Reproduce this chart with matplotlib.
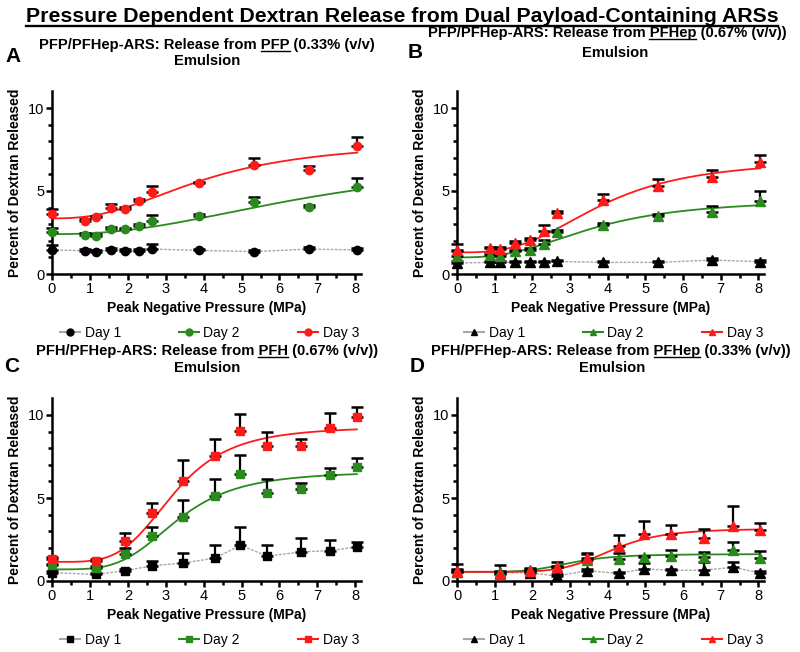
import numpy as np
import matplotlib
matplotlib.use('Agg')
import matplotlib.pyplot as plt
from matplotlib.lines import Line2D

plt.rcParams['font.family'] = ['Liberation Sans', 'DejaVu Sans']

# ---- data (percent of dextran released) ----
x_top = [0, 0.88, 1.15, 1.55, 1.93, 2.3, 2.65, 3.88, 5.33, 6.77, 8.05]
x_bot = [0, 1.15, 1.93, 2.65, 3.45, 4.3, 4.97, 5.68, 6.57, 7.32, 8.04]

# A: PFP/PFHep-ARS, release from PFP
a_day1 = [1.45, 1.4, 1.35, 1.45, 1.4, 1.38, 1.5, 1.42, 1.35, 1.5, 1.45]
a_err1 = [0.27, 0.1, 0.1, 0.1, 0.1, 0.1, 0.3, 0.1, 0.1, 0.1, 0.1]
a_day2 = [2.54, 2.34, 2.3, 2.72, 2.7, 2.9, 3.18, 3.5, 4.32, 4.04, 5.22]
a_err2 = [0.26, 0.1, 0.1, 0.1, 0.1, 0.1, 0.38, 0.1, 0.3, 0.1, 0.58]
a_day3 = [3.62, 3.22, 3.42, 3.98, 3.92, 4.42, 4.94, 5.46, 6.54, 6.24, 7.74]
a_err3 = [0.28, 0.1, 0.1, 0.24, 0.1, 0.1, 0.38, 0.1, 0.42, 0.28, 0.52]

# B: PFP/PFHep-ARS, release from PFHep
b_day1 = [0.66, 0.7, 0.7, 0.7, 0.7, 0.7, 0.76, 0.7, 0.7, 0.84, 0.74]
b_err1 = [0.1] * 11
b_day2 = [1.08, 1.14, 1.08, 1.36, 1.46, 1.78, 2.54, 2.96, 3.52, 3.74, 4.42]
b_err2 = [0.32, 0.1, 0.1, 0.1, 0.1, 0.24, 0.1, 0.1, 0.1, 0.36, 0.58]
b_day3 = [1.42, 1.54, 1.5, 1.86, 2.04, 2.62, 3.7, 4.46, 5.3, 5.82, 6.72]
b_err3 = [0.38, 0.1, 0.1, 0.1, 0.1, 0.34, 0.1, 0.34, 0.4, 0.42, 0.46]

# C: PFH/PFHep-ARS, release from PFH
c_day1 = [0.5, 0.4, 0.62, 0.92, 1.08, 1.38, 2.15, 1.5, 1.75, 1.83, 2.05]
c_err1 = [0.1, 0.1, 0.1, 0.28, 0.59, 0.81, 1.12, 0.69, 0.85, 0.62, 0.3]
c_day2 = [0.95, 0.8, 1.65, 2.73, 3.83, 5.14, 6.45, 5.3, 5.56, 6.37, 6.89]
c_err2 = [0.1, 0.1, 0.34, 0.54, 1.05, 1.02, 1.14, 0.86, 0.32, 0.46, 0.54]
c_day3 = [1.32, 1.2, 2.43, 4.08, 6.0, 7.53, 9.06, 8.13, 8.13, 9.22, 9.88]
c_err3 = [0.1, 0.1, 0.44, 0.6, 1.29, 1.02, 0.98, 0.83, 0.4, 0.88, 0.62]

# D: PFH/PFHep-ARS, release from PFHep
d_day1 = [0.56, 0.5, 0.5, 0.3, 0.62, 0.46, 0.74, 0.64, 0.66, 0.82, 0.5]
d_err1 = [0.48, 0.1, 0.1, 0.1, 0.1, 0.1, 0.32, 0.1, 0.46, 0.34, 0.1]
d_day2 = [0.56, 0.56, 0.66, 0.86, 1.26, 1.32, 1.42, 1.5, 1.46, 1.86, 1.4]
d_err2 = [0.1, 0.4, 0.1, 0.3, 0.36, 0.34, 0.1, 0.36, 0.3, 0.46, 0.42]
d_day3 = [0.62, 0.4, 0.62, 0.82, 1.36, 2.1, 2.82, 2.82, 2.62, 3.32, 3.1]
d_err3 = [0.1, 0.1, 0.1, 0.1, 0.3, 0.66, 0.8, 0.58, 0.54, 1.18, 0.42]

# sigmoidal fit parameters (bottom, top, EC50, hill slope) for day 2 / day 3
a_fit2 = (2.4, 7.0, 7.0, 2.3)
a_fit3 = (3.35, 8.0, 4.0, 2.5)
b_fit2 = (1.0, 4.5, 3.6, 2.7)
b_fit3 = (1.3, 6.9, 3.8, 3.0)
c_fit2 = (0.7, 6.6, 3.3, 4.0)
c_fit3 = (1.15, 9.3, 3.2, 4.2)
d_fit2 = (0.55, 1.62, 3.0, 5.0)
d_fit3 = (0.55, 3.15, 4.1, 6.0)

title = 'Pressure Dependent Dextran Release from Dual Payload-Containing ARSs'
sub_a = ('PFP/PFHep-ARS: Release from ', 'PFP', ' (0.33% (v/v)')
sub_b = ('PFP/PFHep-ARS: Release from ', 'PFHep', ' (0.67% (v/v))')
sub_c = ('PFH/PFHep-ARS: Release from ', 'PFH', ' (0.67% (v/v))')
sub_d = ('PFH/PFHep-ARS: Release from ', 'PFHep', ' (0.33% (v/v))')
days = ['Day 1', 'Day 2', 'Day 3']

RED = '#ff1a1a'
GREEN = '#2a8a1e'
GREY = '#a8a8a8'

W, H = 800, 652
fig = plt.figure(figsize=(W / 100, H / 100), dpi=100)


def hill(x, p):
    bottom, top, ec50, n = p
    return bottom + (top - bottom) * x ** n / (ec50 ** n + x ** n)


def make_panel(left, base, width, xs, d1, e1, d2, e2, d3, e3, f2, f3, marker, ms):
    ax = fig.add_axes([left / W, 1 - base / H, width / W, 182.6 / H])
    for s in ['top', 'right']:
        ax.spines[s].set_visible(False)
    for s in ['left', 'bottom']:
        ax.spines[s].set_linewidth(1.8)
    ax.set_xlim(0, 8.15)
    ax.set_ylim(0, 11)
    ax.set_xticks(range(9))
    ax.set_xticks(np.arange(0.5, 8.1, 1), minor=True)
    ax.set_yticks([0, 5, 10])
    ax.set_yticks(range(11), minor=True)
    ax.tick_params(which='both', direction='out', width=1.8, length=4,
                   labelsize=10.5, pad=1.5)
    ax.tick_params(which='minor', length=3)

    xs = np.array(xs)
    xx = np.linspace(0, xs[-1], 200)
    # day 1 connected by a thin grey line
    ax.plot(xs, d1, color=GREY, lw=1, ls=(0, (2, 1)), zorder=2, clip_on=False)
    ax.plot(xx, hill(xx, f2), color=GREEN, lw=1.3, zorder=2, clip_on=False)
    ax.plot(xx, hill(xx, f3), color=RED, lw=1.3, zorder=2, clip_on=False)
    for y, e, c in [(d1, e1, 'black'), (d2, e2, GREEN), (d3, e3, RED)]:
        ax.errorbar(xs, y, yerr=[np.zeros(len(e)), e], fmt='none', ecolor='black',
                    elinewidth=1.6, capsize=4, capthick=1.8, zorder=3, clip_on=False)
        ax.plot(xs, y, ls='none', marker=marker, ms=ms, color=c, mec=c,
                zorder=4, clip_on=False)

    ax.set_ylabel('Percent of Dextran Released', fontsize=10, fontweight='bold')
    ax.yaxis.set_label_coords(-0.097, 0.5)
    ax.set_xlabel('Peak Negative Pressure (MPa)', fontsize=10, fontweight='bold')
    ax.xaxis.set_label_coords(0.5, -0.15)

    handles = [Line2D([], [], color=GREY, marker=marker, mfc='black', mec='black', ms=5, lw=1.5),
               Line2D([], [], color=GREEN, marker=marker, mfc=GREEN, mec=GREEN, ms=5, lw=1.5),
               Line2D([], [], color=RED, marker=marker, mfc=RED, mec=RED, ms=5, lw=1.5)]
    ax.legend(handles, days, ncol=3, loc='center', bbox_to_anchor=(0.51, -0.325),
              frameon=False, fontsize=10, handlelength=1.45, handletextpad=0.3,
              columnspacing=4.2)
    return ax


make_panel(52, 274, 309, x_top, a_day1, a_err1, a_day2, a_err2, a_day3, a_err3,
           a_fit2, a_fit3, 'o', 6)
make_panel(457, 274, 307, x_top, b_day1, b_err1, b_day2, b_err2, b_day3, b_err3,
           b_fit2, b_fit3, '^', 6.5)
make_panel(52, 581, 309, x_bot, c_day1, c_err1, c_day2, c_err2, c_day3, c_err3,
           c_fit2, c_fit3, 's', 5.5)
make_panel(457, 581, 307, x_bot, d_day1, d_err1, d_day2, d_err2, d_day3, d_err3,
           d_fit2, d_fit3, '^', 6.5)


def ftext(x, y, s, **kw):
    return fig.text(x / W, 1 - y / H, s, ha='center', va='center', **kw)


t = ftext(402, 17, title, fontsize=15.3, fontweight='bold')

subs = []
for (cx, y1, cx2, y2, sub) in [(207, 45, 207, 61, sub_a), (607, 33, 615, 53, sub_b),
                               (207, 351, 207, 368, sub_c), (611, 351, 612, 368, sub_d)]:
    line1 = ftext(cx, y1, ''.join(sub), fontsize=10.6, fontweight='bold')
    ftext(cx2, y2, 'Emulsion', fontsize=10.6, fontweight='bold')
    subs.append((line1, sub))

for (x, y, s) in [(13, 57, 'A'), (415, 53, 'B'), (12, 367, 'C'), (417, 367, 'D')]:
    ftext(x, y, s, fontsize=15, fontweight='bold')


# underline whole title and the emulsion names
fig.canvas.draw()
r = fig.canvas.get_renderer()


def underline(txt, prefix, word, lw, gap):
    bb = txt.get_window_extent(r)
    prop = txt.get_fontproperties()
    full = txt.get_text()
    df = r.get_text_width_height_descent(full, prop, ismath=False)[2]
    w_word = r.get_text_width_height_descent(word, prop, ismath=False)[0]
    w_end = r.get_text_width_height_descent(prefix + word, prop, ismath=False)[0]
    x1 = bb.x0 + w_end
    x0 = x1 - w_word
    y = bb.y0 + df - gap
    fig.add_artist(Line2D([x0 / W, x1 / W], [y / H, y / H], transform=fig.transFigure,
                          color='black', lw=lw))


underline(t, '', title, 1.7, 3.5)
for line1, sub in subs:
    underline(line1, sub[0], sub[1], 1.0, 2)

fig.savefig('out.png', dpi=100)
